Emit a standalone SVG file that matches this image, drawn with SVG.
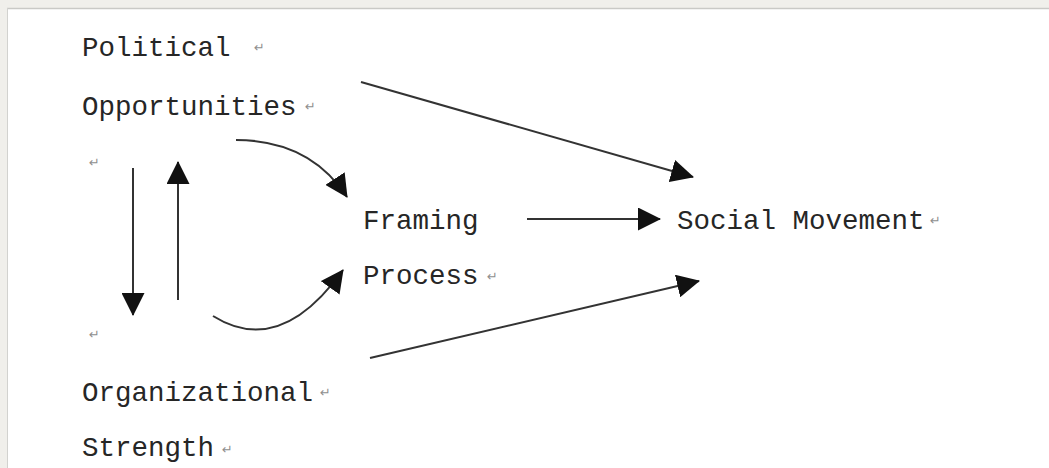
<svg xmlns="http://www.w3.org/2000/svg" width="1049" height="468" viewBox="0 0 1049 468">
<style>
.t{font-family:"Liberation Mono","DejaVu Sans Mono",monospace;font-size:27.5px;fill:#262626}
.r{font-family:"DejaVu Sans","Liberation Sans",sans-serif;font-size:13px;fill:#8f8f8f}
.c{fill:none;stroke:#333;stroke-width:2}
</style>
<defs>
<marker id="ah" markerUnits="userSpaceOnUse" markerWidth="23" markerHeight="23" refX="22" refY="11.5" orient="auto" viewBox="0 0 23 23">
<path d="M0,0 L23,11.5 L0,23 z" fill="#111"/>
</marker>
</defs>
<rect x="0" y="0" width="1049" height="468" fill="#f0efeb"/>
<rect x="7" y="8" width="1042" height="460" fill="#fff"/>
<line x1="7" y1="8.5" x2="1049" y2="8.5" stroke="#c9c9c6" stroke-width="1.5"/>
<line x1="7.5" y1="8" x2="7.5" y2="468" stroke="#d2d2cf" stroke-width="1"/>
<g id="node-political">
<text class="t" x="82" y="56">Political</text>
<text class="r" x="254" y="52">↵</text>
<text class="t" x="82" y="115">Opportunities</text>
<text class="r" x="305" y="111">↵</text>
</g>
<g id="node-empty1"><text class="r" x="89" y="167">↵</text></g>
<g id="node-empty2"><text class="r" x="89" y="339">↵</text></g>
<g id="node-organizational">
<text class="t" x="82" y="401">Organizational</text>
<text class="r" x="320" y="397">↵</text>
<text class="t" x="82" y="456">Strength</text>
<text class="r" x="222" y="454">↵</text>
</g>
<g id="node-framing">
<text class="t" x="363" y="229">Framing</text>
<text class="t" x="363" y="284">Process</text>
<text class="r" x="487" y="281">↵</text>
</g>
<g id="node-social">
<text class="t" x="677" y="229">Social Movement</text>
<text class="r" x="930" y="225">↵</text>
</g>
<g id="connectors">
<line class="c" x1="133" y1="168" x2="133" y2="315" marker-end="url(#ah)"/>
<line class="c" x1="178" y1="300" x2="178" y2="162" marker-end="url(#ah)"/>
<path class="c" d="M236,140 Q310,140 347,197" marker-end="url(#ah)"/>
<path class="c" d="M213,316 Q280,358 343,270" marker-end="url(#ah)"/>
<line class="c" x1="361" y1="82" x2="693" y2="177" marker-end="url(#ah)"/>
<line class="c" x1="527" y1="219" x2="660" y2="219" marker-end="url(#ah)"/>
<line class="c" x1="370" y1="358" x2="699" y2="281" marker-end="url(#ah)"/>
</g>
</svg>
